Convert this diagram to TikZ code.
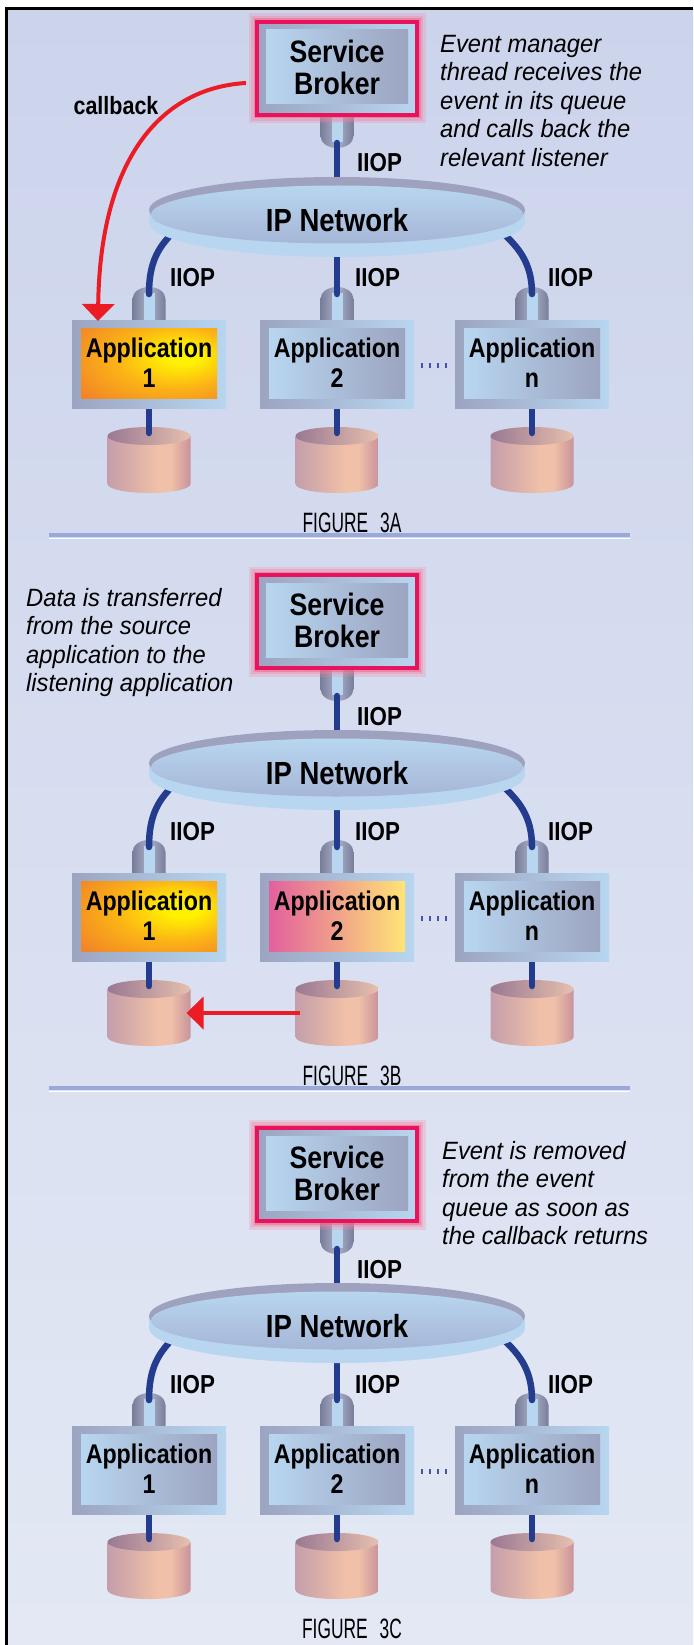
\documentclass[tikz,border=0pt]{standalone}
\usepackage{fontspec}
\setmainfont{Liberation Sans}
\newfontfamily\boxfont{Liberation Sans}[FakeStretch=0.86]
\newfontfamily\notefont{Liberation Sans}[FakeStretch=0.95]
\newfontfamily\capfont{Liberation Sans}[FakeStretch=0.62]
\usetikzlibrary{arrows.meta}

\definecolor{bgtop}{HTML}{CCD4EC}
\definecolor{bgbot}{HTML}{E3E8F4}
\definecolor{wireblue}{HTML}{243C8E}
\definecolor{framegray}{HTML}{9CA4C0}
\definecolor{framelight}{HTML}{B8D6F0}
\definecolor{brokerred}{HTML}{E8135C}
\definecolor{glowpink}{HTML}{F4829E}
\definecolor{arrowred}{HTML}{EC1C24}
\definecolor{stubdark}{HTML}{787E9A}
\definecolor{stubmid}{HTML}{AAB0C8}
\definecolor{cylL}{HTML}{C49EAA}
\definecolor{cylM}{HTML}{F0C0A8}
\definecolor{cylR}{HTML}{C8939C}
\definecolor{cyltopL}{HTML}{9A7892}
\definecolor{cyltopR}{HTML}{E6C0AE}
\definecolor{discgray}{HTML}{9EA2BE}
\definecolor{disclight}{HTML}{B8D6F0}
\definecolor{discmid}{HTML}{A6B6D6}
\definecolor{sepblue}{HTML}{9AAAD8}
\definecolor{dotblue}{HTML}{4454A4}
\definecolor{hotyellow}{HTML}{FFF200}
\definecolor{hotamber}{HTML}{FCB316}
\definecolor{hotorange}{HTML}{F08428}
\definecolor{pinkL}{HTML}{E2609E}
\definecolor{pinkR}{HTML}{FFE476}

% warm highlight of an active application, brightest towards the right
\pgfdeclareradialshading{hotspot}{\pgfpoint{14bp}{6bp}}{%
  color(0bp)=(hotyellow); color(6bp)=(hotyellow); color(22bp)=(hotamber);
  color(40bp)=(hotorange); color(70bp)=(hotorange)}
% body of a disk store
\pgfdeclarehorizontalshading{cylbody}{100bp}{%
  color(0bp)=(cylL); color(25bp)=(cylL); color(55bp)=(cylM);
  color(63bp)=(cylM); color(75bp)=(cylR); color(100bp)=(cylR)}

\tikzset{
  wire/.style={draw=wireblue, line width=6.5pt, line cap=round},
  redarrow/.style={draw=arrowred, line width=4pt, -{Triangle[width=32pt,length=17pt]}},
  brokerframe/.style={left color=framegray, right color=framelight,
    draw=brokerred, line width=3.5pt, minimum width=160pt, minimum height=93pt,
    inner sep=0pt,
    preaction={draw=glowpink, line width=17pt, opacity=.25},
    preaction={draw=glowpink, line width=12pt, opacity=.35},
    preaction={draw=glowpink!70!brokerred, line width=7pt, opacity=.5}},
  brokerbox/.style={left color=framelight, right color=framegray,
    minimum width=142pt, minimum height=74pt, inner sep=0pt, align=center,
    font=\boxfont\bfseries\fontsize{31}{32}\selectfont},
  appframe/.style={left color=framegray, right color=framelight,
    minimum width=154pt, minimum height=88pt, inner sep=0pt},
  appbox/.style={minimum width=136pt, minimum height=70pt, inner sep=0pt,
    align=center, font=\boxfont\bfseries\fontsize{27}{30}\selectfont},
  plainapp/.style={left color=framelight, right color=framegray},
  hotapp/.style={shading=hotspot},
  pinkapp/.style={left color=pinkL, right color=pinkR},
  nettext/.style={inner sep=0pt, font=\boxfont\bfseries\fontsize{32}{34}\selectfont},
  iioptext/.style={inner sep=0pt, font=\boxfont\bfseries\fontsize{26}{28}\selectfont},
  figtext/.style={inner sep=0pt, font=\capfont\fontsize{28}{30}\selectfont},
  notetext/.style={inner sep=0pt, align=left,
    font=\notefont\itshape\fontsize{25}{28.5}\selectfont},
}

% One panel: broker, network, three applications with their stores.
% #1 suffix of names, #2 style of application 1, #3 style of application 2, #4 caption
\newcommand\panel[4]{%
  % disk stores
  \foreach \cx/\k in {149/1,337/2,532/3}{%
    \shade[shading=cylbody] (\cx-41.5,436) -- (\cx-41.5,484)
      .. controls (\cx-41.5,489) and (\cx-22.9,493) .. (\cx,493)
      .. controls (\cx+22.9,493) and (\cx+41.5,489) .. (\cx+41.5,484)
      -- (\cx+41.5,436) -- cycle;
    \shade[left color=cyltopL, right color=cyltopR] (\cx,436) ellipse[x radius=41.5, y radius=9];
    \coordinate (db\k#1) at (\cx,433);
    \coordinate (dbL\k#1) at (\cx-37.5,460);
    \coordinate (dbR\k#1) at (\cx+37.5,460);
    \coordinate (apb\k#1) at (\cx,404);
  }
  % sockets on top of the applications
  \foreach \cx/\k in {149/1,337/2,532/3}{%
    \shade[left color=stubdark, right color=stubdark, middle color=stubmid]
      (\cx-16.5,322) -- (\cx-16.5,299)
      .. controls (\cx-16.5,292) and (\cx-9,287) .. (\cx,287)
      .. controls (\cx+9,287) and (\cx+16.5,292) .. (\cx+16.5,299)
      -- (\cx+16.5,322) -- cycle;
    \fill[framelight] (\cx-5.5,293) rectangle (\cx+5.5,322);
    \coordinate (sock\k#1) at (\cx,294);
  }
  % socket under the broker
  \shade[left color=stubdark, right color=stubdark, middle color=stubmid]
    (320.5,110) -- (320.5,136)
    .. controls (320.5,143) and (328,148) .. (337,148)
    .. controls (346,148) and (353.5,143) .. (353.5,136)
    -- (353.5,110) -- cycle;
  \fill[framelight] (331.5,110) rectangle (342.5,142);
  \coordinate (sockT#1) at (337,143);
  % IIOP links
  \coordinate (netT#1) at (337,200);
  \coordinate (netB#1) at (337,245);
  \coordinate (netL#1) at (178,228);
  \coordinate (netR#1) at (497,228);
  \draw[wire] (sockT#1) -- (netT#1);
  \draw[wire] (netB#1) -- (sock2#1);
  \draw[wire] (netL#1) .. controls (158,246) and (149,262) .. (sock1#1);
  \draw[wire] (netR#1) .. controls (518,246) and (532,262) .. (sock3#1);
  \foreach \k in {1,2,3}{\draw[wire] (apb\k#1) -- (db\k#1);}
  % IP network disc
  \fill[disclight] (337,222) ellipse[x radius=188, y radius=35];
  \fill[disclight] (149,210) rectangle (525,222);
  \fill[discgray] (337,210) ellipse[x radius=188, y radius=33];
  \shade[top color=disclight, bottom color=discmid] (337,214.5) ellipse[x radius=186, y radius=29];
  \node[nettext] (net#1) at (337,220) {IP Network};
  % service broker
  \node[brokerframe] (brf#1) at (337,68.5) {};
  \node[brokerbox] (br#1) at (337,67) {Service\\Broker};
  % applications
  \node[appframe] (apf1#1) at (149,364) {};
  \node[appframe] (apf2#1) at (337,364) {};
  \node[appframe] (apf3#1) at (532,364) {};
  \node[appbox,#2] (ap1#1) at (149,363) {Application\\1};
  \node[appbox,#3] (ap2#1) at (337,363) {Application\\2};
  \node[appbox,plainapp] (ap3#1) at (532,363) {Application\\n};
  \foreach \i in {0,...,3}{\fill[dotblue] (420.5+8*\i,362.5) rectangle ++(2.5,5);}
  % protocol labels
  \node[iioptext, anchor=base west] (iT#1) at (357,172) {IIOP};
  \node[iioptext, anchor=base west] (i1#1) at (170,287) {IIOP};
  \node[iioptext, anchor=base west] (i2#1) at (355,287) {IIOP};
  \node[iioptext, anchor=base west] (i3#1) at (548,287) {IIOP};
  % caption
  \node[figtext, anchor=base] (fig#1) at (352,532) {#4};
}

\begin{document}
\begin{tikzpicture}[x=1pt,y=-1pt]
  \useasboundingbox (0,0) rectangle (693,1645);
  \fill[white] (0,0) rectangle (693,1645);
  \shade[top color=bgtop, bottom color=bgbot] (6,9) rectangle (693,1645);
  \draw[black, line width=3pt] (6.5,1645) -- (6.5,8.7) -- (693,8.7);

  % Figure 3A
  \panel{A}{hotapp}{plainapp}{FIGURE\hspace{12pt}3A}
  \node[notetext, anchor=north west] (noteA) at (440,35)
    {Event manager\\thread receives the\\event in its queue\\and calls back the\\relevant listener};
  \node[inner sep=0pt, anchor=base, font=\boxfont\bfseries\fontsize{25}{27}\selectfont]
    (cbtext) at (116,115) {callback};
  \coordinate (cbs) at (246,83);
  \coordinate (cbe) at (98,321);
  \draw[redarrow] (cbs) .. controls (160,88) and (100,160) .. (cbe);
  \draw[sepblue, line width=4pt] (49,535) -- (630,535);
  \draw[white, line width=1.5pt] (49,538.5) -- (630,538.5);

  % Figure 3B
  \begin{scope}[yshift=-553pt]
    \panel{B}{hotapp}{pinkapp}{FIGURE\hspace{12pt}3B}
    \node[notetext, anchor=north west] (noteB) at (26,35)
      {Data is transferred\\from the source\\application to the\\listening application};
    \draw[redarrow] (dbL2B) -- (dbR1B);
    \draw[sepblue, line width=4pt] (49,535) -- (630,535);
    \draw[white, line width=1.5pt] (49,538.5) -- (630,538.5);
  \end{scope}

  % Figure 3C
  \begin{scope}[yshift=-1106pt]
    \panel{C}{plainapp}{plainapp}{FIGURE\hspace{12pt}3C}
    \node[notetext, anchor=north west] (noteC) at (442,35)
      {Event is removed\\from the event\\queue as soon as\\the callback returns};
  \end{scope}
\end{tikzpicture}
\end{document}
